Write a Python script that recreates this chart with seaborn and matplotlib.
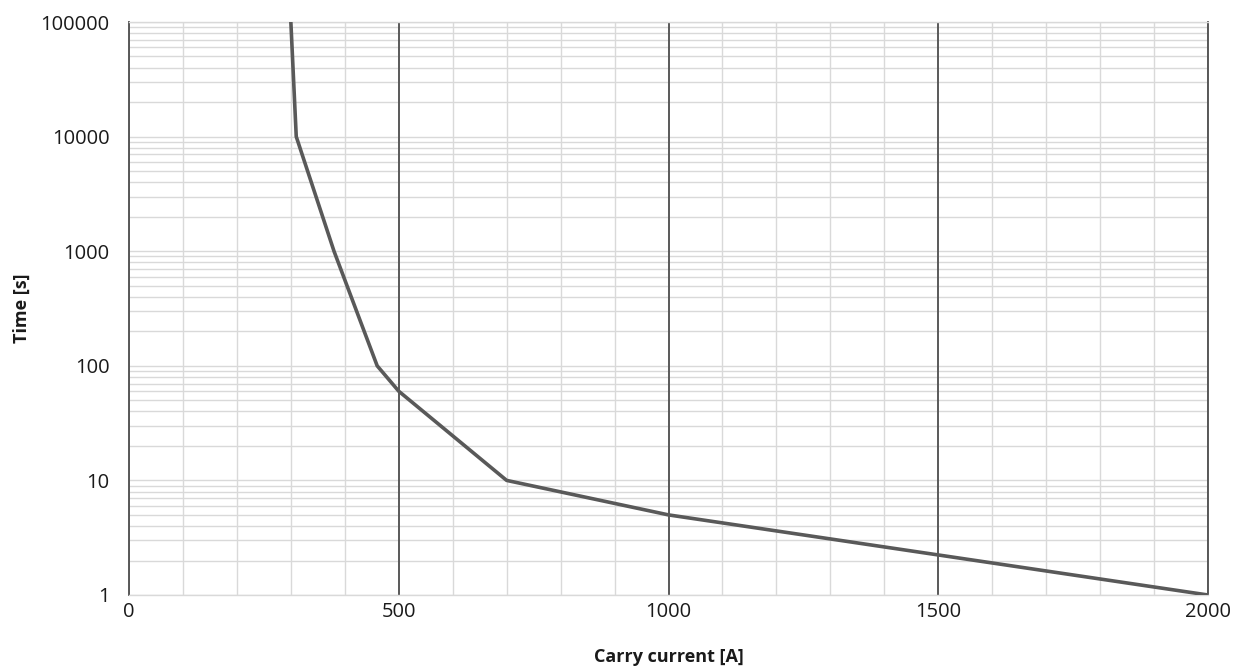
import matplotlib
matplotlib.use("Agg")
import matplotlib.pyplot as plt
import seaborn as sns
import pandas as pd
import numpy as np
from matplotlib.ticker import FixedLocator, LogLocator, NullFormatter, FuncFormatter

# Data
current = [300, 310, 380, 460, 500, 700, 1000, 2000]
time_s = [100000, 10000, 1000, 100, 60, 10, 5, 1]
x_ticks = [0, 500, 1000, 1500, 2000]
y_ticks = [1, 10, 100, 1000, 10000, 100000]
x_label = "Carry current [A]"
y_label = "Time [s]"

df = pd.DataFrame({"current": current, "time": time_s})

sns.set_theme(style="white")
plt.rcParams["font.family"] = ["Open Sans", "DejaVu Sans"]

fig = plt.figure(figsize=(12.34, 6.71), dpi=100)
ax = fig.add_axes([129/1234, 1-595/671, (1208-129)/1234, (595-22)/671])

sns.lineplot(data=df, x="current", y="time", sort=False, color="#595959",
             linewidth=2.6, ax=ax, zorder=5)

ax.set_yscale("log")
ax.set_xlim(0, 2000)
ax.set_ylim(1, 100000)

minor_x = [v for v in range(0, 2001, 100) if v not in x_ticks]
ax.xaxis.set_major_locator(FixedLocator(x_ticks))
ax.xaxis.set_minor_locator(FixedLocator(minor_x))
ax.yaxis.set_major_locator(FixedLocator(y_ticks))
ax.yaxis.set_minor_locator(LogLocator(base=10, subs=np.arange(2, 10), numticks=20))
ax.yaxis.set_major_formatter(FuncFormatter(lambda v, p: f"{int(round(v))}"))
ax.yaxis.set_minor_formatter(NullFormatter())

ax.grid(which="both", axis="y", color="#d9d9d9", linewidth=1.0, linestyle="-")
ax.grid(which="minor", axis="x", color="#d9d9d9", linewidth=1.0, linestyle="-")
ax.grid(which="major", axis="x", color="#595959", linewidth=1.4, linestyle="-")
ax.set_axisbelow(True)
ax.yaxis.set_zorder(0.4)
ax.xaxis.set_zorder(0.6)

for side in ["left", "right"]:
    ax.spines[side].set_color("#595959")
    ax.spines[side].set_linewidth(1.4)
for side in ["top", "bottom"]:
    ax.spines[side].set_color("#d9d9d9")
    ax.spines[side].set_linewidth(1.0)

ax.tick_params(axis="both", which="both", length=0)
ax.tick_params(axis="x", which="major", pad=5, labelsize=14.5, labelcolor="#1a1a1a")
ax.tick_params(axis="y", which="major", pad=14, labelsize=14.5, labelcolor="#1a1a1a")

ax.set_xlabel(x_label, fontsize=13, fontweight="bold", color="#1a1a1a", labelpad=19)
ax.set_ylabel(y_label, fontsize=13, fontweight="bold", color="#1a1a1a", labelpad=7)

fig.savefig("out.png", dpi=100)
